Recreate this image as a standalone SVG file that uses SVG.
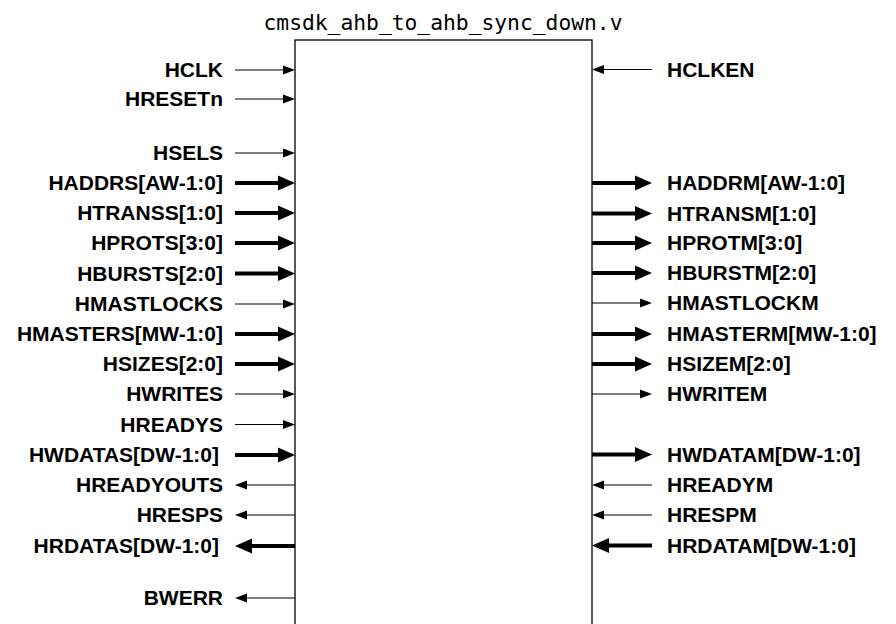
<svg xmlns="http://www.w3.org/2000/svg" width="896" height="624" viewBox="0 0 896 624">
<style>
.lbl{font-family:"Liberation Sans",Arial,sans-serif;font-weight:bold;font-size:21px;fill:#000}
.l{text-anchor:end}
.r{text-anchor:start}
.title{font-family:"DejaVu Sans Mono","Liberation Mono",monospace;font-size:21.3px;fill:#000;text-anchor:middle}
.thin{stroke:#000;stroke-width:1.2;fill:none;marker-end:url(#ah)}
.thick{stroke:#000;stroke-width:4;fill:none;marker-end:url(#ahb)}
</style>
<defs>
<marker id="ah" markerUnits="userSpaceOnUse" markerWidth="13" markerHeight="10" refX="0" refY="4.5" orient="auto" overflow="visible"><path d="M0,0 L12,4.5 L0,9 z" fill="#000"/></marker>
<marker id="ahb" markerUnits="userSpaceOnUse" markerWidth="18" markerHeight="16" refX="0" refY="7.5" orient="auto" overflow="visible"><path d="M0,0 L17,7.5 L0,15 z" fill="#000"/></marker>
</defs>
<rect width="896" height="624" fill="#fff"/>
<text class="title" x="443" y="30">cmsdk_ahb_to_ahb_sync_down.v</text>
<g id="module"><rect x="295" y="40" width="297" height="620" fill="none" stroke="#000" stroke-width="1.3"/></g>
<g id="connectors">
<line class="thin" x1="235" y1="70" x2="283" y2="70"/>
<line class="thin" x1="235" y1="99" x2="283" y2="99"/>
<line class="thin" x1="235" y1="153" x2="283" y2="153"/>
<line class="thick" x1="235" y1="183" x2="278" y2="183"/>
<line class="thick" x1="235" y1="213" x2="278" y2="213"/>
<line class="thick" x1="235" y1="243" x2="278" y2="243"/>
<line class="thick" x1="235" y1="273.5" x2="278" y2="273.5"/>
<line class="thin" x1="235" y1="304" x2="283" y2="304"/>
<line class="thick" x1="235" y1="334" x2="278" y2="334"/>
<line class="thick" x1="235" y1="364" x2="278" y2="364"/>
<line class="thin" x1="235" y1="394" x2="283" y2="394"/>
<line class="thin" x1="235" y1="424.5" x2="283" y2="424.5"/>
<line class="thick" x1="235" y1="455" x2="278" y2="455"/>
<line class="thin" x1="295" y1="485" x2="247" y2="485"/>
<line class="thin" x1="295" y1="515" x2="247" y2="515"/>
<line class="thick" x1="295" y1="546" x2="252" y2="546"/>
<line class="thin" x1="295" y1="598" x2="247" y2="598"/>
<line class="thin" x1="652" y1="69.5" x2="604" y2="69.5"/>
<line class="thick" x1="592" y1="183" x2="635" y2="183"/>
<line class="thick" x1="592" y1="213.5" x2="635" y2="213.5"/>
<line class="thick" x1="592" y1="243" x2="635" y2="243"/>
<line class="thick" x1="592" y1="273" x2="635" y2="273"/>
<line class="thin" x1="592" y1="303" x2="640" y2="303"/>
<line class="thick" x1="592" y1="334" x2="635" y2="334"/>
<line class="thick" x1="592" y1="364" x2="635" y2="364"/>
<line class="thin" x1="592" y1="394" x2="640" y2="394"/>
<line class="thick" x1="592" y1="454.5" x2="635" y2="454.5"/>
<line class="thin" x1="652" y1="485" x2="604" y2="485"/>
<line class="thin" x1="652" y1="515" x2="604" y2="515"/>
<line class="thick" x1="652" y1="545.5" x2="609" y2="545.5"/>
</g>
<g id="labels-left">
<text class="lbl l" x="223" y="77">HCLK</text>
<text class="lbl l" x="223" y="106">HRESETn</text>
<text class="lbl l" x="223" y="160">HSELS</text>
<text class="lbl l" x="223" y="190">HADDRS[AW-1:0]</text>
<text class="lbl l" x="223" y="220">HTRANSS[1:0]</text>
<text class="lbl l" x="223" y="250">HPROTS[3:0]</text>
<text class="lbl l" x="223" y="280.5">HBURSTS[2:0]</text>
<text class="lbl l" x="223" y="311">HMASTLOCKS</text>
<text class="lbl l" x="223" y="341">HMASTERS[MW-1:0]</text>
<text class="lbl l" x="223" y="371">HSIZES[2:0]</text>
<text class="lbl l" x="223" y="401">HWRITES</text>
<text class="lbl l" x="223" y="431.5">HREADYS</text>
<text class="lbl l" x="219" y="462">HWDATAS[DW-1:0]</text>
<text class="lbl l" x="223" y="492">HREADYOUTS</text>
<text class="lbl l" x="223" y="522">HRESPS</text>
<text class="lbl l" x="219" y="553">HRDATAS[DW-1:0]</text>
<text class="lbl l" x="223" y="605">BWERR</text>
</g>
<g id="labels-right">
<text class="lbl r" x="667" y="76.5">HCLKEN</text>
<text class="lbl r" x="667" y="190">HADDRM[AW-1:0]</text>
<text class="lbl r" x="667" y="220.5">HTRANSM[1:0]</text>
<text class="lbl r" x="667" y="250">HPROTM[3:0]</text>
<text class="lbl r" x="667" y="280">HBURSTM[2:0]</text>
<text class="lbl r" x="667" y="310">HMASTLOCKM</text>
<text class="lbl r" x="667" y="341">HMASTERM[MW-1:0]</text>
<text class="lbl r" x="667" y="371">HSIZEM[2:0]</text>
<text class="lbl r" x="667" y="401">HWRITEM</text>
<text class="lbl r" x="667" y="461.5">HWDATAM[DW-1:0]</text>
<text class="lbl r" x="667" y="492">HREADYM</text>
<text class="lbl r" x="667" y="522">HRESPM</text>
<text class="lbl r" x="667" y="552.5">HRDATAM[DW-1:0]</text>
</g>
</svg>
